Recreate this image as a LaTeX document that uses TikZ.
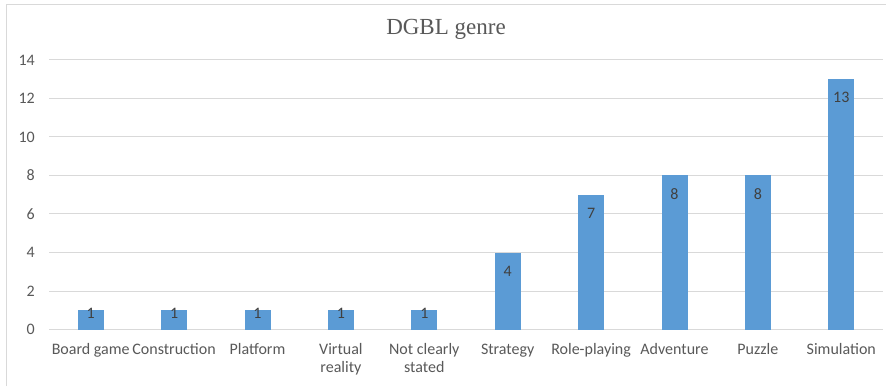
\documentclass[tikz,border=0pt]{standalone}
\usepackage{fontspec}
\setmainfont{Carlito}
\newfontfamily\titlefont{Liberation Serif}
\definecolor{barblue}{HTML}{5B9BD5}
\definecolor{gridgray}{HTML}{D9D9D9}
\definecolor{axtext}{HTML}{595959}
\definecolor{dltext}{HTML}{404040}
\definecolor{framegray}{HTML}{D9D9D9}
\tikzset{
  bar/.style={fill=barblue, draw=none},
  gridline/.style={draw=gridgray, line width=1pt},
  ticklab/.style={anchor=east, text=axtext, font=\fontsize{16}{18}\selectfont, inner sep=0pt},
  catlab/.style={anchor=north, text=axtext, font=\fontsize{16}{18}\selectfont, inner sep=0pt, align=center},
  datalab/.style={text=dltext, font=\fontsize{16}{18}\selectfont, inner sep=0pt},
}
\begin{document}
\begin{tikzpicture}[x=1pt,y=1pt]
\useasboundingbox (0,0) rectangle (886,386);
\fill[white] (0,0) rectangle (886,386);
% frame (left and top edges visible)
\draw[framegray, line width=1pt] (6,0) -- (6,381) -- (886,381);
% title
\node[text=axtext, font=\titlefont\fontsize{23}{26}\selectfont, inner sep=0pt] (title) at (446,357) {DGBL genre};
% gridlines and tick labels
\foreach \v in {0,2,...,14} {
  \pgfmathsetmacro{\yy}{386-(329.5-19.25*\v)}
  \draw[gridline] (49,\yy) -- (883,\yy);
  \node[ticklab] (tick\v) at (35,\yy) {\v};
}
% bars
\foreach \i/\val/\lab in {
  0/1/{Board game},
  1/1/{Construction},
  2/1/{Platform},
  3/1/{Virtual\\reality},
  4/1/{Not clearly\\stated},
  5/4/{Strategy},
  6/7/{Role-playing},
  7/8/{Adventure},
  8/8/{Puzzle},
  9/13/{Simulation}} {
  \pgfmathsetmacro{\cx}{49+83.4*(\i+0.5)}
  \pgfmathsetmacro{\top}{386-(329.5-19.25*\val)}
  \pgfmathsetmacro{\ly}{\val<2 ? 386-313 : \top-18.5}
  \fill[bar] (\cx-13,386-329.5) rectangle (\cx+13,\top);
  \node[datalab] (dl\i) at (\cx,\ly) {\val};
  \node[catlab] (cat\i) at (\cx,386-343.5) {\lab};
}
\end{tikzpicture}
\end{document}
